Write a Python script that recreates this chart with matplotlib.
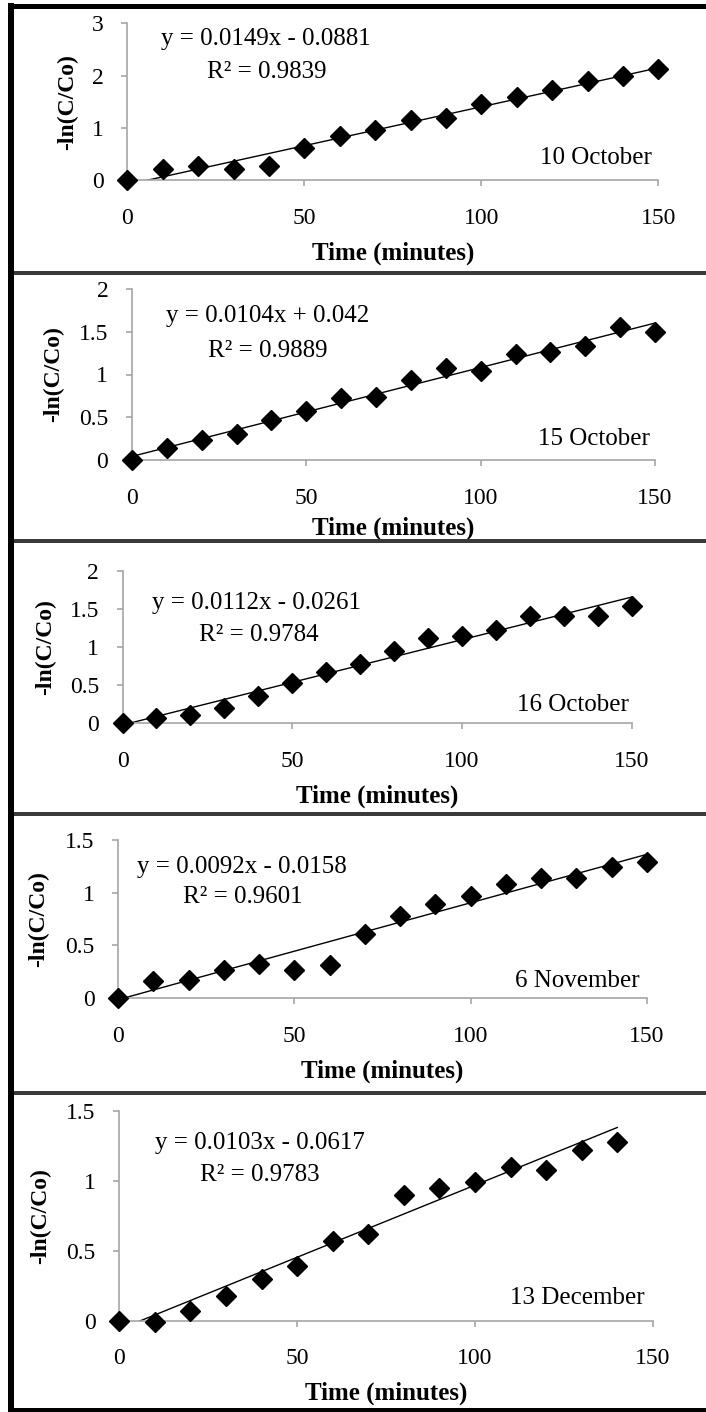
import matplotlib
matplotlib.use("Agg")
import matplotlib.pyplot as plt
from matplotlib.lines import Line2D
import numpy as np

plt.rcParams['font.family'] = ['Liberation Serif', 'DejaVu Serif']

# sampling times (minutes)
times = [0, 10, 20, 30, 40, 50, 60, 70, 80, 90, 100, 110, 120, 130, 140, 150]

# -ln(C/Co)
oct10 = [0, 0.22, 0.27, 0.22, 0.27, 0.62, 0.84, 0.96, 1.15, 1.19, 1.45, 1.58, 1.72, 1.90, 1.99, 2.13]
oct15 = [0, 0.14, 0.23, 0.30, 0.47, 0.57, 0.72, 0.74, 0.93, 1.08, 1.04, 1.24, 1.26, 1.33, 1.55, 1.50]
oct16 = [0, 0.07, 0.10, 0.20, 0.36, 0.52, 0.67, 0.78, 0.94, 1.12, 1.14, 1.22, 1.41, 1.41, 1.41, 1.54]
nov6 = [0, 0.16, 0.17, 0.27, 0.32, 0.27, 0.31, 0.61, 0.78, 0.89, 0.97, 1.08, 1.14, 1.14, 1.24, 1.29]
dec13 = [0, -0.01, 0.07, 0.18, 0.30, 0.39, 0.57, 0.62, 0.90, 0.95, 0.99, 1.10, 1.08, 1.22, 1.28]

series = [oct10, oct15, oct16, nov6, dec13]
dates = ["10 October", "15 October", "16 October", "6 November", "13 December"]

# linear trendlines as printed on the chart
slopes = [0.0149, 0.0104, 0.0112, 0.0092, 0.0103]
intercepts = [-0.0881, 0.042, -0.0261, -0.0158, -0.0617]
r2 = [0.9839, 0.9889, 0.9784, 0.9601, 0.9783]

y_max = [3, 2, 2, 1.5, 1.5]
y_step = [1, 0.5, 0.5, 0.5, 0.5]
x_ticks = [0, 50, 100, 150]

W, H = 706, 1412
fig = plt.figure(figsize=(W / 100, H / 100), dpi=100)

# plot areas in pixels: left, right, top, bottom
boxes = [(127.4, 658.3, 23.3, 180.0),
         (131.9, 655.1, 289.0, 460.0),
         (122.5, 631.7, 570.7, 723.0),
         (118.0, 647.0, 840.0, 998.0),
         (119.3, 652.9, 1110.7, 1320.7)]

eq_pos = [(0.26, 0.90), (0.26, 0.84), (0.263, 0.786), (0.234, 0.83), (0.264, 0.845)]
r2_pos = [(0.262, 0.69), (0.26, 0.64), (0.268, 0.578), (0.235, 0.64), (0.263, 0.694)]
date_pos = [(0.987, 0.14), (0.99, 0.12), (0.995, 0.118), (0.987, 0.11), (0.985, 0.107)]
xlab_y = [-0.465, -0.40, -0.484, -0.466, -0.346]
ylab_x = [-0.113, -0.149, -0.152, -0.151, -0.148]

axis_grey = '#a6a6a6'
fs_tick = 17
fs_text = 18

for i, y in enumerate(series):
    l, r, t, b = boxes[i]
    ax = fig.add_axes([l / W, 1 - b / H, (r - l) / W, (b - t) / H])
    x = times[:len(y)]

    ax.plot(x, y, linestyle='none', marker='D', markersize=10, color='black',
            clip_on=False, zorder=3)

    xf = np.array([x[0], x[-1]], dtype=float)
    ax.plot(xf, slopes[i] * xf + intercepts[i], color='black', linewidth=1.0, zorder=2)

    ax.set_xlim(0, 150)
    ax.set_ylim(0, y_max[i])
    ax.set_xticks(x_ticks)
    ax.set_yticks(np.arange(0, y_max[i] + 1e-9, y_step[i]))
    ax.yaxis.set_major_formatter(plt.FormatStrFormatter('%g'))

    for s in ['top', 'right']:
        ax.spines[s].set_visible(False)
    for s in ['left', 'bottom']:
        ax.spines[s].set_color(axis_grey)
        ax.spines[s].set_linewidth(1.2)
    ax.tick_params(axis='both', colors=axis_grey, length=4, width=1.2, labelsize=fs_tick,
                   labelcolor='black')
    ax.tick_params(axis='x', pad=16)
    ax.tick_params(axis='y', pad=13)

    ax.set_xlabel('Time (minutes)', fontsize=fs_text, fontweight='bold')
    ax.xaxis.set_label_coords(0.5, xlab_y[i])
    ax.xaxis.label.set_va('center')
    ax.set_ylabel('-ln(C/Co)', fontsize=fs_tick, fontweight='bold')
    ax.yaxis.set_label_coords(ylab_x[i], 0.5)
    ax.yaxis.label.set_va('center')

    sign = '+' if intercepts[i] >= 0 else '-'
    eq = f"y = {slopes[i]}x {sign} {abs(intercepts[i])}"
    ax.text(eq_pos[i][0], eq_pos[i][1], eq, transform=ax.transAxes,
            ha='center', va='center', fontsize=fs_text)
    ax.text(r2_pos[i][0], r2_pos[i][1], f"R² = {r2[i]}", transform=ax.transAxes,
            ha='center', va='center', fontsize=fs_text)
    ax.text(date_pos[i][0], date_pos[i][1], dates[i], transform=ax.transAxes,
            ha='right', va='center', fontsize=fs_text)


def hline(y, x0, x1, lw, color):
    fig.add_artist(Line2D([x0 / W, x1 / W], [1 - y / H, 1 - y / H],
                          transform=fig.transFigure, color=color, linewidth=lw / 1.389,
                          solid_capstyle='butt'))


def vline(x, y0, y1, lw, color):
    fig.add_artist(Line2D([x / W, x / W], [1 - y0 / H, 1 - y1 / H],
                          transform=fig.transFigure, color=color, linewidth=lw / 1.389,
                          solid_capstyle='butt'))


# panel frame (open on the right, as in the source image)
for ys in [273, 541, 814, 1093]:
    hline(ys, 8, 706, 4, '#3a3a3a')
hline(5.5, 8, 706, 5, 'black')
hline(1410, 8, 706, 4, 'black')
vline(11, 3, 1412, 6, 'black')

fig.savefig('out.png', dpi=100)
